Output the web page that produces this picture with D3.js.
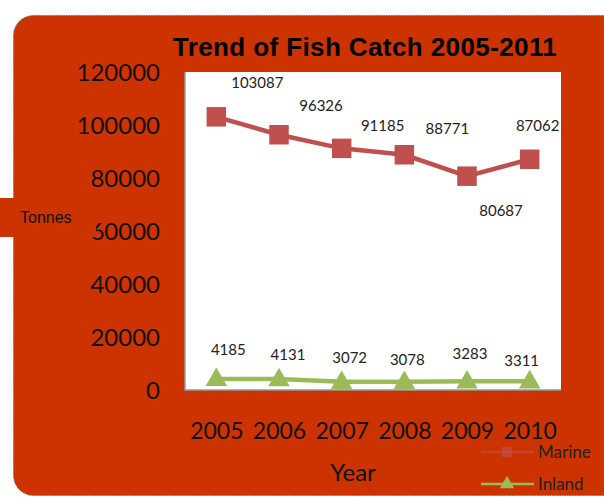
<!DOCTYPE html>
<html lang="en">
  <head>
    <meta charset="UTF-8" />
    <title>Trend of Fish Catch 2005-2011</title>
    <script src="https://d3js.org/d3.v7.min.js"></script>
    <style>
      body {
        margin: 0;
        background: #fff;
      }
      svg text {
        font-family: Lato, "Open Sans", sans-serif;
      }
    </style>
  </head>
  <body>
    <div id="chart"></div>
    <script>
      const years = ["2005", "2006", "2007", "2008", "2009", "2010"];
      const marine = [103087, 96326, 91185, 88771, 80687, 87062];
      const inland = [4185, 4131, 3072, 3078, 3283, 3311];
      const yTicks = [0, 20000, 40000, 60000, 80000, 100000, 120000];

      // hand-placed label nudges, like in the original sheet
      const marineLabelShift = [[41, -34], [42, -29], [41, -23], [43, -26], [34, 35], [8, -34]];
      const inlandLabelShift = [[12, -29], [9, -24], [8, -24], [3, -22], [3, -28], [-8, -20]];

      const width = 604,
        height = 497;
      const red = "#cc3300";

      const svg = d3
        .select("#chart")
        .append("svg")
        .attr("width", width)
        .attr("height", height);

      // outer red panel with dotted edge
      svg
        .append("rect")
        .attr("x", 13.5)
        .attr("y", 15.5)
        .attr("width", 610)
        .attr("height", 480)
        .attr("rx", 20)
        .attr("fill", red)
        .attr("stroke", "#777")
        .attr("stroke-dasharray", "1.5,1");

      const plot = { left: 185, right: 561, top: 72, bottom: 390 };

      const x = d3
        .scalePoint()
        .domain(years)
        .range([plot.left, plot.right])
        .padding(0.5);
      const y = d3
        .scaleLinear()
        .domain([0, 120000])
        .range([plot.bottom, plot.top]);

      svg
        .append("rect")
        .attr("x", plot.left)
        .attr("y", plot.top)
        .attr("width", plot.right - plot.left)
        .attr("height", plot.bottom - plot.top)
        .attr("fill", "#fff");

      svg
        .append("path")
        .attr("d", `M${plot.left},${plot.top}V${plot.bottom}H${plot.right}`)
        .attr("fill", "none")
        .attr("stroke", "#999")
        .attr("stroke-width", 1.5);

      // title
      svg
        .append("text")
        .attr("x", 365)
        .attr("y", 56)
        .attr("text-anchor", "middle")
        .style("font-family", "'Liberation Sans', Arial, sans-serif")
        .style("font-weight", "bold")
        .style("font-size", "26px")
        .style("letter-spacing", "0.4px")
        .text("Trend of Fish Catch 2005-2011");

      // y axis labels
      const yAxis = d3.axisLeft(y).tickValues(yTicks).tickSize(0).tickPadding(0).tickFormat(d3.format("d"));
      svg
        .append("g")
        .attr("transform", "translate(160,0)")
        .call(yAxis)
        .call((g) => g.select(".domain").remove())
        .selectAll("text")
        .attr("fill", "#111")
        .style("font-size", "24px")
        .style("font-family", "Lato, sans-serif")
        .attr("dy", "0.36em");

      // x axis labels
      const xAxis = d3.axisBottom(x).tickSize(0).tickPadding(0);
      svg
        .append("g")
        .attr("transform", "translate(0,423)")
        .call(xAxis)
        .call((g) => g.select(".domain").remove())
        .selectAll("text")
        .attr("fill", "#111")
        .style("font-size", "23px")
        .style("font-family", "Lato, sans-serif");

      svg
        .append("text")
        .attr("x", 353)
        .attr("y", 481)
        .attr("text-anchor", "middle")
        .attr("fill", "#111")
        .style("font-size", "24px")
        .text("Year");

      // Tonnes box
      svg
        .append("rect")
        .attr("x", 0)
        .attr("y", 198)
        .attr("width", 96)
        .attr("height", 39)
        .attr("fill", red);
      svg
        .append("text")
        .attr("x", 20)
        .attr("y", 223)
        .attr("fill", "#111")
        .style("font-family", "'Liberation Sans', Arial, sans-serif")
        .style("font-size", "16px")
        .text("Tonnes");

      const line = d3
        .line()
        .x((d, i) => x(years[i]))
        .y((d) => y(d));

      const marineColor = "#c0504d";
      const inlandColor = "#9bbb59";
      const square = d3.symbol().type(d3.symbolSquare).size(380);
      const tri = d3.symbol().type(d3.symbolTriangle).size(200);

      // Marine series
      svg
        .append("path")
        .datum(marine)
        .attr("d", line)
        .attr("fill", "none")
        .attr("stroke", marineColor)
        .attr("stroke-width", 4.5);
      svg
        .selectAll(".m-pt")
        .data(marine)
        .join("path")
        .attr("class", "m-pt")
        .attr("d", square)
        .attr("transform", (d, i) => `translate(${x(years[i])},${y(d)})`)
        .attr("fill", marineColor);
      svg
        .selectAll(".m-lbl")
        .data(marine)
        .join("text")
        .attr("class", "m-lbl")
        .attr("x", (d, i) => x(years[i]) + marineLabelShift[i][0])
        .attr("y", (d, i) => y(d) + marineLabelShift[i][1])
        .attr("dy", "0.35em")
        .attr("text-anchor", "middle")
        .attr("fill", "#222")
        .style("font-size", "15px")
        .text((d) => d);

      // Inland series
      svg
        .append("path")
        .datum(inland)
        .attr("d", line)
        .attr("fill", "none")
        .attr("stroke", inlandColor)
        .attr("stroke-width", 4.5);
      svg
        .selectAll(".i-pt")
        .data(inland)
        .join("path")
        .attr("class", "i-pt")
        .attr("d", tri)
        .attr("transform", (d, i) => `translate(${x(years[i])},${y(d) + 1})`)
        .attr("fill", inlandColor);
      svg
        .selectAll(".i-lbl")
        .data(inland)
        .join("text")
        .attr("class", "i-lbl")
        .attr("x", (d, i) => x(years[i]) + inlandLabelShift[i][0])
        .attr("y", (d, i) => y(d) + inlandLabelShift[i][1])
        .attr("dy", "0.35em")
        .attr("text-anchor", "middle")
        .attr("fill", "#222")
        .style("font-size", "15px")
        .text((d) => d);

      // legend
      const legend = [
        { name: "Marine", color: marineColor, sym: d3.symbol().type(d3.symbolSquare).size(100), op: 0.6, y: 452 },
        { name: "Inland", color: inlandColor, sym: d3.symbol().type(d3.symbolTriangle).size(90), op: 1, y: 484 },
      ];
      const lg = svg.selectAll(".lg").data(legend).join("g").attr("class", "lg");
      lg.append("line")
        .attr("x1", 481)
        .attr("x2", 534)
        .attr("y1", (d) => d.y)
        .attr("y2", (d) => d.y)
        .attr("stroke", (d) => d.color)
        .attr("stroke-opacity", (d) => d.op)
        .attr("stroke-width", 2.5);
      lg.append("path")
        .attr("d", (d) => d.sym())
        .attr("transform", (d) => `translate(507,${d.y})`)
        .attr("fill", (d) => d.color)
        .attr("fill-opacity", (d) => d.op);
      lg.append("text")
        .attr("x", 538)
        .attr("y", (d) => d.y)
        .attr("dy", "0.36em")
        .attr("fill", "#222")
        .style("font-size", "17px")
        .text((d) => d.name);
    </script>
  </body>
</html>
